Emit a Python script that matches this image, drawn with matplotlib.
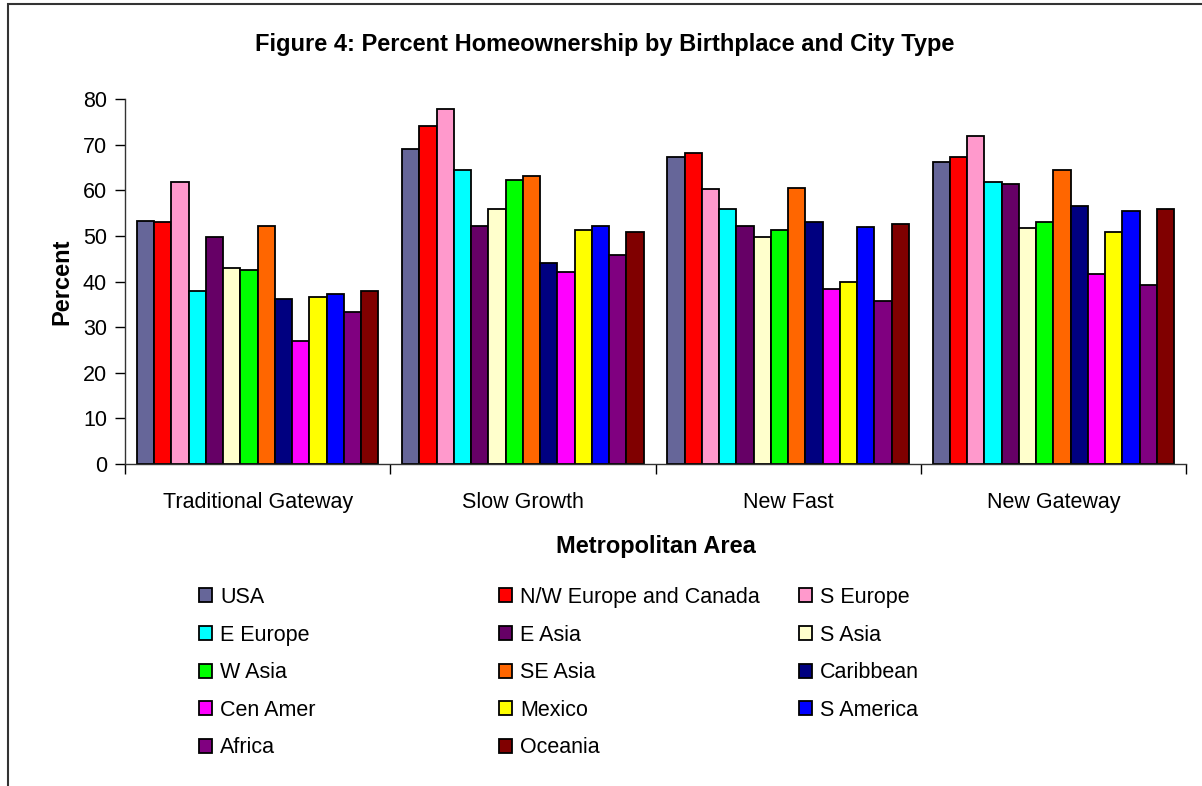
import matplotlib
matplotlib.use("Agg")
import matplotlib.pyplot as plt
import numpy as np
from matplotlib.patches import Rectangle

plt.rcParams["font.family"] = ["Liberation Sans", "DejaVu Sans"]

areas = ["Traditional Gateway", "Slow Growth", "New Fast", "New Gateway"]
origins = ["USA", "N/W Europe and Canada", "S Europe", "E Europe", "E Asia",
           "S Asia", "W Asia", "SE Asia", "Caribbean", "Cen Amer", "Mexico",
           "S America", "Africa", "Oceania"]
colors = ["#666699", "#FF0000", "#FF99CC", "#00FFFF", "#660066", "#FFFFCC",
          "#00FF00", "#FF6600", "#000080", "#FF00FF", "#FFFF00", "#0000FF",
          "#800080", "#800000"]

# percent homeownership, one list per birthplace (Trad, Slow, New Fast, New Gateway)
usa = [53.4, 69.0, 67.4, 66.2]
nw_europe = [53.0, 74.1, 68.3, 67.4]
s_europe = [61.8, 77.9, 60.3, 72.0]
e_europe = [37.9, 64.5, 56.0, 61.9]
e_asia = [49.7, 52.2, 52.2, 61.5]
s_asia = [42.9, 56.0, 49.7, 51.8]
w_asia = [42.5, 62.3, 51.3, 53.0]
se_asia = [52.2, 63.1, 60.6, 64.5]
caribbean = [36.1, 44.2, 53.0, 56.5]
cen_amer = [26.9, 42.1, 38.3, 41.7]
mexico = [36.6, 51.3, 39.9, 50.9]
s_america = [37.4, 52.2, 51.9, 55.5]
africa = [33.3, 45.9, 35.8, 39.2]
oceania = [37.9, 50.9, 52.6, 56.0]

values = [usa, nw_europe, s_europe, e_europe, e_asia, s_asia, w_asia, se_asia,
          caribbean, cen_amer, mexico, s_america, africa, oceania]

W, H = 1202, 786
fig = plt.figure(figsize=(W / 100, H / 100), dpi=100)
ax = fig.add_axes([125 / W, 1 - 464 / H, (1186 - 125) / W, (464 - 99.3) / H])

n = len(origins)
bw = 0.91 / n
x = np.arange(len(areas))
handles = []
for i in range(n):
    b = ax.bar(x - 0.455 + bw * (i + 0.5), values[i], bw, color=colors[i],
               edgecolor="black", linewidth=1.3, label=origins[i])
    handles.append(b)

ax.set_xlim(-0.5, len(areas) - 0.5)
ax.set_ylim(0, 80)
ax.set_yticks(range(0, 81, 10))
ax.set_xticks(x)
ax.set_xticklabels(areas)
ax.set_xticks(np.arange(-0.5, len(areas), 1.0), minor=True)
ax.tick_params(axis="x", which="major", length=0, pad=20, labelsize=15.5)
ax.tick_params(axis="x", which="minor", length=7, direction="out", width=1)
ax.tick_params(axis="y", length=7, width=1, pad=6, labelsize=15.5)
for s in ["top", "right"]:
    ax.spines[s].set_visible(False)
for s in ["left", "bottom"]:
    ax.spines[s].set_linewidth(1)
    ax.spines[s].set_color("#333333")

ax.set_xlabel("Metropolitan Area", fontsize=17, fontweight="bold", labelpad=16)
ax.set_ylabel("Percent", fontsize=17, fontweight="bold", labelpad=7)
fig.text(0.503, 1 - 45 / H, "Figure 4: Percent Homeownership by Birthplace and City Type",
         ha="center", va="center", fontsize=17, fontweight="bold")

# legend, three columns filled row by row
col_x = [199, 499, 799]
for c in range(3):
    idx = list(range(c, n, 3))
    fig.legend([handles[i] for i in idx], [origins[i] for i in idx],
               loc="upper left", bbox_to_anchor=(col_x[c] / W, 1 - 587 / H),
               frameon=False, fontsize=15.5, borderpad=0, borderaxespad=0,
               handlelength=0.62, handleheight=0.62, handletextpad=0.35,
               labelspacing=0.77)

fig.add_artist(Rectangle((8 / W, -0.1), 1.2, 1.1 - 4 / H, transform=fig.transFigure,
                         fill=False, edgecolor="#333333", linewidth=1.5))

fig.savefig("out.png", dpi=100)
